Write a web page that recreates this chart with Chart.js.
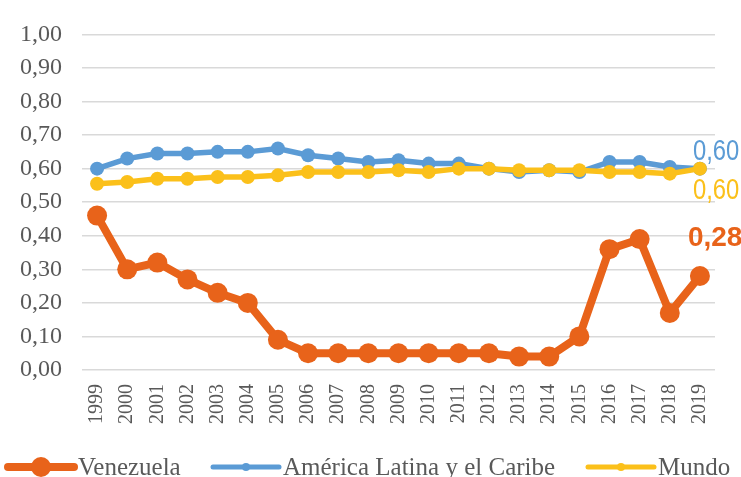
<!DOCTYPE html>
<html>
<head>
<meta charset="utf-8">
<script src="https://cdn.jsdelivr.net/npm/chart.js@4"></script>
<style>
  html, body { margin: 0; padding: 0; background: #ffffff; }
  #wrap { width: 741px; height: 477px; position: relative; }
</style>
</head>
<body>
<div id="wrap"><canvas id="c" width="741" height="477"></canvas></div>
<script>
const years = ["1999","2000","2001","2002","2003","2004","2005","2006","2007","2008","2009","2010","2011","2012","2013","2014","2015","2016","2017","2018","2019"];
const venezuela = [0.46,0.30,0.32,0.27,0.23,0.20,0.09,0.05,0.05,0.05,0.05,0.05,0.05,0.05,0.04,0.04,0.10,0.36,0.39,0.17,0.28];
const americaLatina = [0.60,0.63,0.645,0.645,0.65,0.65,0.66,0.64,0.63,0.62,0.625,0.615,0.615,0.60,0.59,0.595,0.59,0.62,0.62,0.605,0.60];
const mundo = [0.555,0.56,0.57,0.57,0.575,0.575,0.58,0.59,0.59,0.59,0.595,0.59,0.60,0.60,0.595,0.595,0.595,0.59,0.59,0.585,0.60];
const seriesNames = ["Venezuela","América Latina y el Caribe","Mundo"];
const endLabels = ["0,28","0,60","0,60"];

const COL_VEN = "#E8631A";
const COL_ALC = "#5B9BD5";
const COL_MUN = "#FBC01A";
const TXT = "#595959";

const fmt = v => v.toFixed(2).replace(".", ",");

const endLabelPlugin = {
  id: "endLabels",
  afterDatasetsDraw(chart) {
    const ctx = chart.ctx;
    ctx.save();
    const m0 = chart.getDatasetMeta(0).data;
    const p0 = m0[m0.length - 1];
    ctx.fillStyle = COL_VEN;
    ctx.font = "bold 28px 'Liberation Sans', Arial, sans-serif";
    ctx.textBaseline = "middle";
    ctx.textAlign = "left";
    ctx.fillText(endLabels[0], p0.x - 12, p0.y - 38);
    const m1 = chart.getDatasetMeta(1).data;
    const p1 = m1[m1.length - 1];
    const m2 = chart.getDatasetMeta(2).data;
    const p2 = m2[m2.length - 1];
    ctx.font = "29px 'Liberation Sans', Arial, sans-serif";
    ctx.save();
    ctx.translate(p1.x - 7, p1.y - 17);
    ctx.scale(0.82, 1);
    ctx.fillStyle = COL_ALC;
    ctx.fillText(endLabels[1], 0, 0);
    ctx.restore();
    ctx.save();
    ctx.translate(p2.x - 7, p2.y + 22);
    ctx.scale(0.82, 1);
    ctx.fillStyle = COL_MUN;
    ctx.fillText(endLabels[2], 0, 0);
    ctx.restore();
    ctx.restore();
  }
};

const legendPlugin = {
  id: "customLegend",
  afterDraw(chart) {
    const ctx = chart.ctx;
    const xs = [8, 213, 588];
    const y = 467;
    const lineLen = 66;
    ctx.save();
    chart.data.datasets.forEach((ds, i) => {
      const x = xs[i];
      ctx.strokeStyle = ds.borderColor;
      ctx.lineWidth = i === 0 ? 8 : 5;
      ctx.lineCap = "round";
      ctx.beginPath();
      ctx.moveTo(x, y);
      ctx.lineTo(x + lineLen, y);
      ctx.stroke();
      ctx.fillStyle = ds.borderColor;
      ctx.beginPath();
      ctx.arc(x + lineLen / 2, y, i === 0 ? 10 : 4, 0, Math.PI * 2);
      ctx.fill();
      ctx.fillStyle = TXT;
      ctx.font = "25px 'Liberation Serif', 'Times New Roman', serif";
      ctx.textBaseline = "middle";
      ctx.textAlign = "left";
      ctx.fillText(ds.label, x + lineLen + 4, y + 1);
    });
    ctx.restore();
  }
};

new Chart(document.getElementById("c"), {
  type: "line",
  data: {
    labels: years,
    datasets: [
      { label: seriesNames[0], data: venezuela, borderColor: COL_VEN, backgroundColor: COL_VEN,
        borderWidth: 8, pointRadius: 10, pointHoverRadius: 10, pointBorderWidth: 0, order: 0 },
      { label: seriesNames[1], data: americaLatina, borderColor: COL_ALC, backgroundColor: COL_ALC,
        borderWidth: 5.5, pointRadius: 7, pointHoverRadius: 7, pointBorderWidth: 0, order: 2 },
      { label: seriesNames[2], data: mundo, borderColor: COL_MUN, backgroundColor: COL_MUN,
        borderWidth: 5.5, pointRadius: 7, pointHoverRadius: 7, pointBorderWidth: 0, order: 1 }
    ]
  },
  options: {
    responsive: false,
    animation: false,
    events: [],
    layout: { padding: { top: 23, right: 26, left: 0, bottom: 37 } },
    plugins: { legend: { display: false }, tooltip: { enabled: false } },
    scales: {
      x: {
        offset: true,
        grid: { display: false, drawTicks: false },
        border: { display: false },
        ticks: {
          color: TXT, padding: 14, minRotation: 90, maxRotation: 90, autoSkip: false,
          font: { family: "'Liberation Serif', 'Times New Roman', serif", size: 20 }
        },
        afterFit(s) { s.height = 70; }
      },
      y: {
        min: 0, max: 1,
        grid: { color: "#D9D9D9", lineWidth: 1.5, drawTicks: false },
        border: { display: false },
        ticks: {
          stepSize: 0.1, color: TXT, padding: 20,
          font: { family: "'Liberation Serif', 'Times New Roman', serif", size: 24 },
          callback: v => fmt(v)
        },
        afterFit(s) { s.width = 82; }
      }
    }
  },
  plugins: [endLabelPlugin, legendPlugin]
});
</script>
</body>
</html>
